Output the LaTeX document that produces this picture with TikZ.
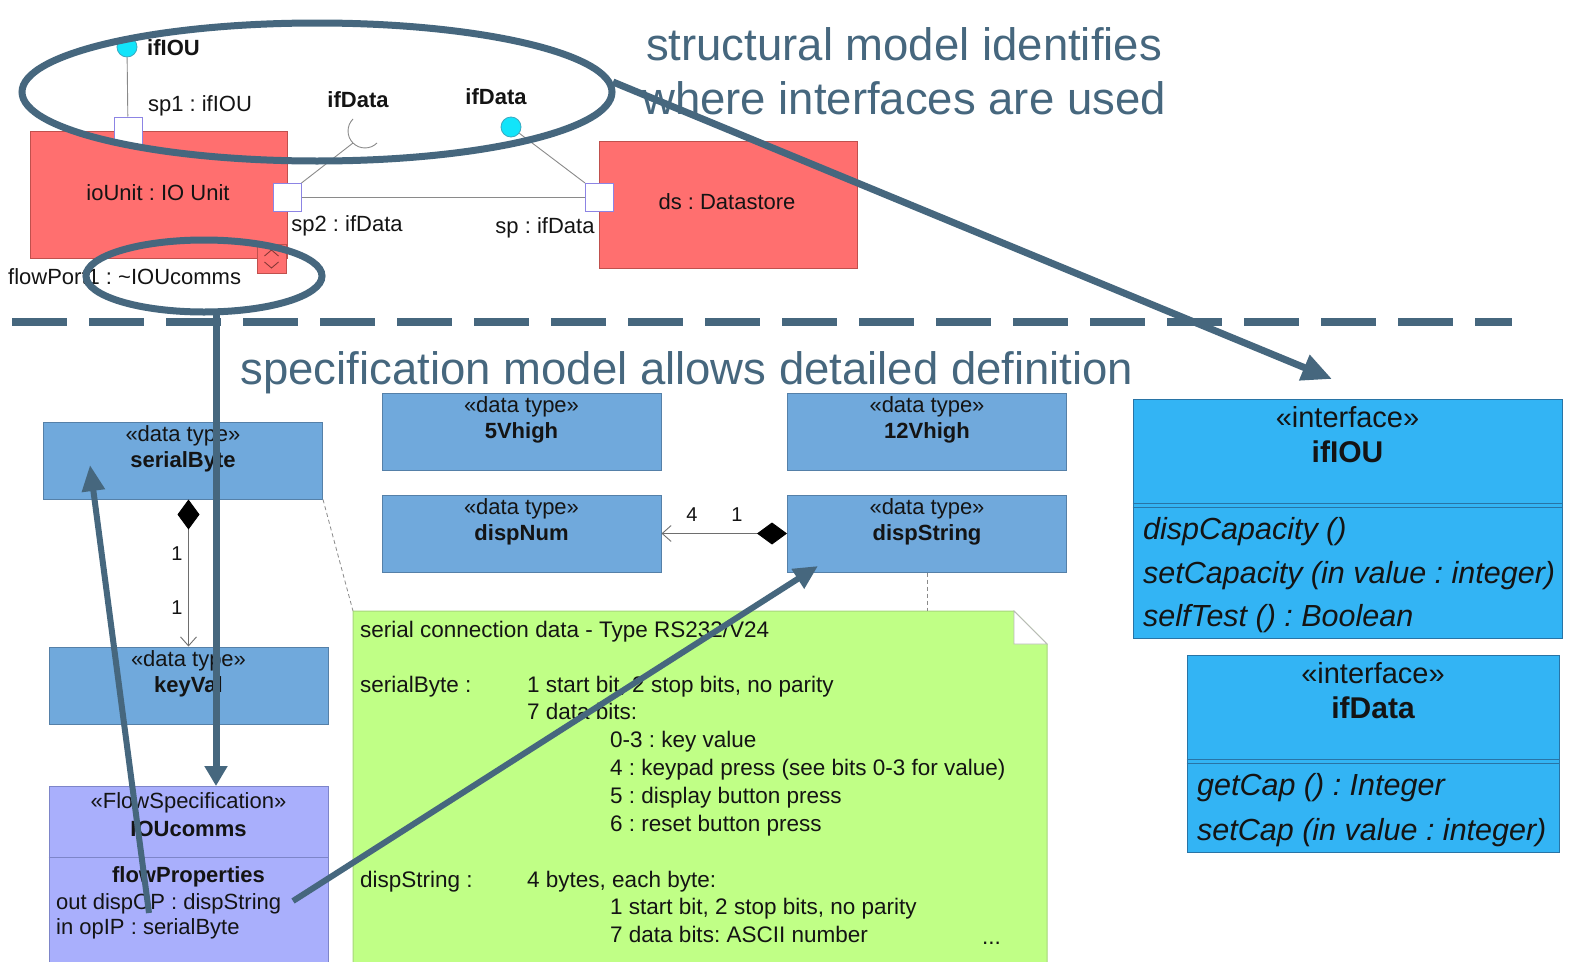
\documentclass[tikz,border=0pt]{standalone}
\usepackage{fontspec}
\setmainfont{Liberation Sans}
\usetikzlibrary{arrows.meta}
\frenchspacing
\definecolor{slate}{HTML}{46677E}
\definecolor{salmonF}{HTML}{FF6F6F}
\definecolor{salmonB}{HTML}{C0504D}
\definecolor{dtF}{HTML}{70A9DC}
\definecolor{dtB}{HTML}{5580A8}
\definecolor{fsF}{HTML}{A9AFFC}
\definecolor{fsB}{HTML}{7D85C9}
\definecolor{noteF}{HTML}{C0FF86}
\definecolor{noteB}{HTML}{A6D67A}
\definecolor{ifF}{HTML}{33B4F4}
\definecolor{ifB}{HTML}{2874A6}
\definecolor{lolF}{HTML}{12E4FA}
\definecolor{lolB}{HTML}{3AA9C0}
\definecolor{portB}{HTML}{8C84E4}
\definecolor{ink}{HTML}{141414}
\definecolor{linegrey}{HTML}{8A8A8A}
\begin{document}
\begin{tikzpicture}[x=1pt,y=-1pt,
  txt/.style={inner sep=0pt,text=ink,font=\fontsize{22}{26}\selectfont},
  bold/.style={inner sep=0pt,text=ink,font=\fontsize{22}{26}\selectfont\bfseries},
  num/.style={inner sep=0pt,text=ink,font=\fontsize{20}{24}\selectfont,anchor=base},
  notetxt/.style={inner sep=0pt,text=ink,font=\fontsize{22.5}{26}\selectfont,anchor=base west},
  optxt/.style={inner sep=0pt,text=ink,font=\fontsize{30.5}{34}\selectfont\itshape,anchor=base west},
  iftxt/.style={inner sep=0pt,text=ink,font=\fontsize{29}{34}\selectfont,anchor=base},
  ifname/.style={inner sep=0pt,text=ink,font=\fontsize{30}{34}\selectfont\bfseries,anchor=base},
  heading/.style={inner sep=0pt,text=slate,font=\fontsize{45.5}{52}\selectfont,anchor=base},
  part/.style={draw=salmonB,fill=salmonF,line width=1pt,inner sep=0pt},
  port/.style={draw=portB,fill=white,line width=1pt,minimum size=28pt,inner sep=0pt},
  lolli/.style={circle,draw=lolB,fill=lolF,line width=0.8pt,minimum size=20pt,inner sep=0pt},
  dtbox/.style={draw=dtB,fill=dtF,line width=1pt,minimum width=279pt,minimum height=77pt,inner sep=0pt},
  ifbox/.style={draw=ifB,fill=ifF,line width=1pt,inner sep=0pt},
  wire/.style={draw=linegrey,line width=0.9pt},
  annot/.style={draw=slate,line width=7pt},
  comp/.style={draw=linegrey!80!black,line width=0.9pt,{Diamond[length=30pt,width=22pt,color=black,fill=black]}-{Straight Barb[length=9pt,width=16pt]}},
  anchorline/.style={draw=linegrey,line width=0.8pt,dash pattern=on 4pt off 3pt},
]
\useasboundingbox (0,0) rectangle (1571,961);
\clip (0,0) rectangle (1571,961);
\fill[white] (0,0) rectangle (1571,961);

% headings
\node[heading] (h1) at (904,60) {structural model identifies};
\node[heading] (h2) at (904,114) {where interfaces are used};
\node[heading] (h3) at (687,384) {specification model allows detailed definition};

% structural model
\node[part,minimum width=257pt,minimum height=127pt] (io) at (158.5,195) {};
\node[txt,anchor=base] (ioL) at (158,200) {ioUnit : IO Unit};
\node[part,minimum width=258pt,minimum height=127pt] (ds) at (728,204.5) {};
\node[txt,anchor=base] (dsL) at (727,209) {ds : Datastore};

\node[lolli] (lA) at (127,47) {};
\node[lolli] (lB) at (511,127) {};
\node[port] (sp1) at (128,131) {};
\node[port] (sp2) at (287,197.5) {};
\node[port] (sp) at (599.5,197.5) {};
\node[part,minimum size=29pt] (fp) at (271.5,258.5) {};
\draw[salmonB!70!black,line width=0.9pt] (264.5,256) -- (271.5,250) -- (278.5,256);
\draw[salmonB!70!black,line width=0.9pt] (264.5,262) -- (271.5,268) -- (278.5,262);

\draw[wire] (lA) -- (sp1);
\draw[wire] (sp2.east) -- (sp.west);
\draw[wire] (lB) -- (sp.north west);
\coordinate (sock) at (353,143);
\draw[wire] (sp2.north east) -- (sock);
\draw[wire] (353,119) .. controls (346.4,125.6) and (346.4,136.4) .. (sock)
  .. controls (359.6,149.6) and (370.4,149.6) .. (377,143);

\node[bold,anchor=base west] (lAL) at (147,55) {ifIOU};
\node[txt,anchor=base] (sp1L) at (200,111) {sp1 : ifIOU};
\node[bold,anchor=base] (sockL) at (358,107) {ifData};
\node[bold,anchor=base] (lBL) at (496,104) {ifData};
\node[txt,anchor=base] (sp2L) at (347,231) {sp2 : ifData};
\node[txt,anchor=base] (spL) at (545,233) {sp : ifData};
\node[txt,anchor=base west] (fpL) at (8,284) {flowPort1 : \textasciitilde IOUcomms};

% data types
\node[dtbox] (sb) at (183,460.5) {};
\node[txt,anchor=base] (sbS) at (183,441) {«data type»};
\node[bold,anchor=base] (sbN) at (183,467) {serialByte};
\node[dtbox] (kv) at (188.5,685.5) {};
\node[txt,anchor=base] (kvS) at (188.5,666) {«data type»};
\node[bold,anchor=base] (kvN) at (188.5,692) {keyVal};
\node[dtbox] (v5) at (521.5,431.5) {};
\node[txt,anchor=base] (v5S) at (521.5,412) {«data type»};
\node[bold,anchor=base] (v5N) at (521.5,438) {5Vhigh};
\node[dtbox] (v12) at (927,431.5) {};
\node[txt,anchor=base] (v12S) at (927,412) {«data type»};
\node[bold,anchor=base] (v12N) at (927,438) {12Vhigh};
\node[dtbox] (dn) at (521.5,533.5) {};
\node[txt,anchor=base] (dnS) at (521.5,514) {«data type»};
\node[bold,anchor=base] (dnN) at (521.5,540) {dispNum};
\node[dtbox] (dS) at (927,533.5) {};
\node[txt,anchor=base] (dSS) at (927,514) {«data type»};
\node[bold,anchor=base] (dSN) at (927,540) {dispString};

\draw[comp] (sb.south -| kv.north) -- (kv.north);
\node[num] (c1a) at (177,560) {1};
\node[num] (c1b) at (177,614) {1};
\draw[comp] (dS.west) -- (dn.east);
\node[num] (c2a) at (692,521) {4};
\node[num] (c2b) at (737,521) {1};

% flow specification
\node[draw=fsB,fill=fsF,line width=1pt,minimum width=279pt,minimum height=200pt,inner sep=0pt] (fs) at (188.5,886) {};
\draw[fsB,line width=1pt] (fs.west |- 0,857) -- (fs.east |- 0,857);
\node[txt,anchor=base] (fsS) at (188.5,808) {«FlowSpecification»};
\node[bold,anchor=base] (fsN) at (188.5,836) {IOUcomms};
\node[bold,anchor=base] (fsP) at (188.5,882) {flowProperties};
\node[txt,anchor=base west] (fsA) at (56,909) {out dispOP : dispString};
\node[txt,anchor=base west] (fsB2) at (56,934) {in opIP : serialByte};

% note
\coordinate (nTL) at (353,611);
\draw[noteB,fill=noteF,line width=1pt] (nTL) -- (1014,611) -- (1047,644) -- (1047,980) -- (353,980) -- cycle;
\draw[linegrey!60,fill=white,line width=0.8pt] (1014,611) -- (1014,644) -- (1047,644) -- cycle;
\draw[anchorline] (sb.south east) -- (nTL);
\draw[anchorline] (dS.south) -- (dS.south |- nTL);
\node[notetxt] (n1) at (360,637) {serial connection data - Type RS232/V24};
\node[notetxt] (n2) at (360,692) {serialByte :};
\node[notetxt] (n3) at (527,692) {1 start bit, 2 stop bits, no parity};
\node[notetxt] (n4) at (527,719) {7 data bits:};
\node[notetxt] (n5) at (610,747) {0-3 : key value};
\node[notetxt] (n6) at (610,775) {4 : keypad press (see bits 0-3 for value)};
\node[notetxt] (n7) at (610,803) {5 : display button press};
\node[notetxt] (n8) at (610,831) {6 : reset button press};
\node[notetxt] (n9) at (360,887) {dispString :};
\node[notetxt] (n10) at (527,887) {4 bytes, each byte:};
\node[notetxt] (n11) at (610,914) {1 start bit, 2 stop bits, no parity};
\node[notetxt] (n12) at (610,942) {7 data bits: ASCII number};
\node[notetxt] (n13) at (982,944) {...};

% interfaces
\node[ifbox,minimum width=429pt,minimum height=239pt] (i1) at (1347.5,518.5) {};
\draw[ifB,line width=1pt] (i1.west |- 0,503) -- (i1.east |- 0,503);
\draw[ifB,line width=1pt] (i1.west |- 0,507) -- (i1.east |- 0,507);
\node[iftxt] (i1S) at (1347.5,427) {«interface»};
\node[ifname] (i1N) at (1347.5,462) {ifIOU};
\node[optxt] (i1a) at (1143,539) {dispCapacity ()};
\node[optxt] (i1b) at (1143,583) {setCapacity (in value : integer)};
\node[optxt] (i1c) at (1143,626) {selfTest () : Boolean};

\node[ifbox,minimum width=372pt,minimum height=197pt] (i2) at (1373,753.5) {};
\draw[ifB,line width=1pt] (i2.west |- 0,759) -- (i2.east |- 0,759);
\draw[ifB,line width=1pt] (i2.west |- 0,763) -- (i2.east |- 0,763);
\node[iftxt] (i2S) at (1373,683) {«interface»};
\node[ifname] (i2N) at (1373,718) {ifData};
\node[optxt] (i2a) at (1197,795) {getCap () : Integer};
\node[optxt] (i2b) at (1197,840) {setCap (in value : integer)};

% annotations
\draw[annot] (317,92) ellipse [x radius=295, y radius=69];
\draw[annot] (204,276) ellipse [x radius=118, y radius=36];
\draw[annot,line width=8pt,dash pattern=on 55pt off 22pt] (12,322) -- (1512,322);
\coordinate (eA) at (613,82);
\coordinate (tA) at (1332,379);
\draw[annot,-{Triangle[length=30pt,width=26pt]}] (eA) -- (tA);
\coordinate (eB) at (216,312);
\coordinate (tB) at (216,786);
\draw[annot,-{Triangle[length=20pt,width=22pt]}] (eB) -- (tB);
\coordinate (sA) at (149,913);
\coordinate (tC) at (90,465);
\draw[annot,line width=6pt,-{Triangle[length=26pt,width=22pt]}] (sA) -- (tC);
\coordinate (sB) at (293,901);
\coordinate (tD) at (818,566);
\draw[annot,line width=6pt,-{Triangle[length=24pt,width=22pt]}] (sB) -- (tD);
\end{tikzpicture}
\end{document}
